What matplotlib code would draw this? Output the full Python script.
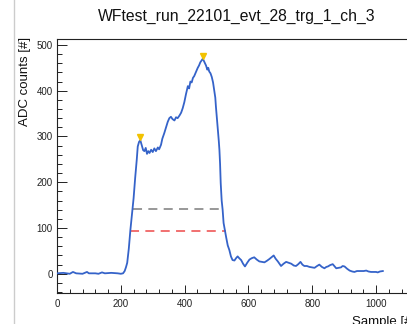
import matplotlib
matplotlib.use("Agg")
import matplotlib.pyplot as plt
from matplotlib.lines import Line2D
from matplotlib.ticker import MultipleLocator

plt.rcParams['font.family'] = ['Liberation Sans', 'DejaVu Sans']

title = "WFtest_run_22101_evt_28_trg_1_ch_3"
xlabel = "Sample [#]"
ylabel = "ADC counts [#]"

samples = [0, 20, 40, 50, 60, 80, 94, 100, 120, 130, 141, 150, 170, 190, 200, 207,
           212, 216, 220, 225, 230, 235, 240, 245, 250, 253, 257, 261, 265, 270, 274,
           278, 282, 286, 290, 295, 300, 305, 310, 316, 320, 326, 330, 336, 341, 347,
           352, 357, 362, 368, 373, 378, 384, 389, 394, 399, 404, 410, 414, 418, 422,
           426, 430, 435, 441, 445, 449, 453, 457, 461, 464, 467, 471, 474, 477, 481,
           485, 489, 493, 496, 498, 501, 504, 507, 509, 511, 513, 516, 519, 522, 526,
           530, 535, 540, 545, 550, 556, 561, 566, 571, 577, 583, 589, 596, 603, 610,
           618, 626, 634, 642, 650, 657, 665, 672, 679, 685, 692, 697, 702, 710, 718,
           726, 734, 742, 749, 756, 763, 769, 775, 783, 791, 799, 807, 815, 822, 830,
           838, 844, 849, 856, 864, 870, 875, 882, 890, 895, 901, 909, 917, 925, 932,
           940, 947, 953, 961, 969, 976, 984, 992, 1000, 1005, 1012, 1021]
adc = [1, 2, 0, 4, 1, 0, 4, 1, 1, 0, 3, 1, 2, 1, 0, 1,
       6, 14, 24, 55, 96, 130, 165, 210, 250, 278, 288, 292, 282, 270, 268,
       275, 262, 268, 264, 271, 266, 274, 268, 276, 272, 282, 295, 307, 318, 332,
       340, 343, 338, 335, 342, 340, 346, 352, 362, 375, 392, 410, 405, 420, 418,
       428, 432, 440, 450, 455, 462, 466, 470, 464, 460, 455, 446, 450, 442, 438,
       430, 418, 400, 385, 365, 340, 314, 290, 270, 240, 198, 160, 140, 111, 95,
       80, 62, 52, 38, 30, 29, 34, 38, 34, 30, 22, 16, 24, 31, 34,
       36, 31, 27, 26, 25, 28, 32, 36, 40, 33, 27, 22, 17, 22, 26,
       24, 22, 18, 17, 21, 26, 20, 17, 17, 15, 14, 13, 17, 20, 15,
       12, 15, 16, 19, 21, 16, 12, 13, 14, 17, 16, 11, 7, 5, 4,
       6, 6, 6, 6, 7, 5, 4, 4, 4, 3, 5, 6]

peak_x = [261, 457]
peak_y = [292, 470]

thr_levels = [141, 94]
thr_start = [237, 230]
thr_end = [519, 530]
thr_colors = ['#909090', '#f06464']

W, H = 407, 324
fig = plt.figure(figsize=(W / 100, H / 100), dpi=100)
fig.patch.set_facecolor('white')

left_px, right_px, top_px, bot_px = 57, 424, 39, 293
ax = fig.add_axes([left_px / W, 1 - bot_px / H, (right_px - left_px) / W, (bot_px - top_px) / H])

ax.plot(samples, adc, color='#3563c9', lw=1.3, zorder=3)
for lvl, xs, xe, c in zip(thr_levels, thr_start, thr_end, thr_colors):
    ax.plot([xs, xe], [lvl, lvl], color=c, lw=1.3, dashes=(5, 3.5), zorder=2)
ax.plot(peak_x, [p + 6 for p in peak_y], linestyle='none', marker='v', ms=5,
        color='#f2c200', zorder=4)

ax.set_xlim(0, 1150)
ax.set_ylim(-42, 513)
ax.xaxis.set_major_locator(MultipleLocator(200))
ax.xaxis.set_minor_locator(MultipleLocator(40))
ax.yaxis.set_major_locator(MultipleLocator(100))
ax.yaxis.set_minor_locator(MultipleLocator(20))
ax.tick_params(axis='x', which='major', direction='in', length=5.5, width=0.7,
               labelsize=7, pad=4, colors='#222222')
ax.tick_params(axis='x', which='minor', direction='in', length=2.8, width=0.7, colors='#222222')
ax.tick_params(axis='y', which='major', direction='in', length=7, width=0.7,
               labelsize=7, pad=3, colors='#222222')
ax.tick_params(axis='y', which='minor', direction='in', length=3.5, width=0.7, colors='#222222')
for s in ax.spines.values():
    s.set_linewidth(0.8)
    s.set_color('#222222')

fig.text(98 / W, 1 - 21 / H, title, fontsize=11.3, ha='left', va='baseline', color='#111111')
fig.text(25 / W, 1 - 37 / H, ylabel, fontsize=9.5, rotation=90, ha='center', va='top', color='#111111')
fig.text(352 / W, 1 - 316 / H, xlabel, fontsize=9.5, ha='left', va='top', color='#111111')

fig.add_artist(Line2D([14 / W, 14 / W], [0, 1], color='#cccccc', lw=1.0))

fig.savefig('out.png', dpi=100)
